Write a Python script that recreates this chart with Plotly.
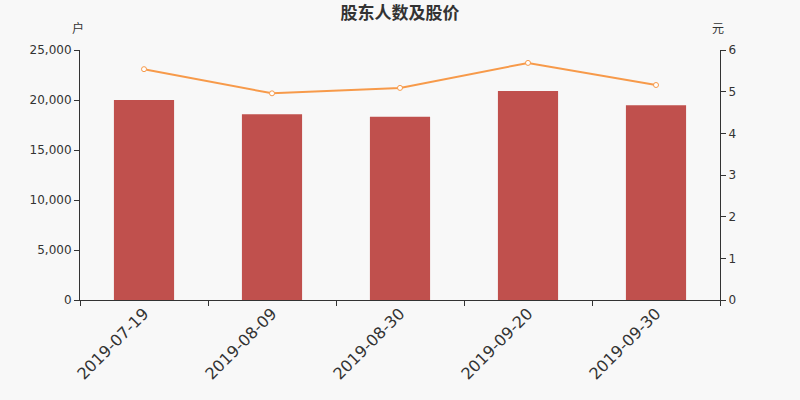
import plotly.graph_objects as go

dates = ['2019-07-19', '2019-08-09', '2019-08-30', '2019-09-20', '2019-09-30']
holders = [20000, 18580, 18330, 20900, 19480]
prices = [5.54, 4.96, 5.09, 5.69, 5.16]
left_ticks = [0, 5000, 10000, 15000, 20000, 25000]
left_ticktext = ['0', '5,000', '10,000', '15,000', '20,000', '25,000']
right_ticks = [0, 1, 2, 3, 4, 5, 6]

font_family = 'DejaVu Sans, Noto Sans CJK SC, sans-serif'

fig = go.Figure()
fig.add_trace(go.Bar(
    x=dates,
    y=holders,
    marker=dict(color='#c0504d', line=dict(width=0)),
    name='股东人数',
))
fig.add_trace(go.Scatter(
    x=dates,
    y=prices,
    yaxis='y2',
    mode='lines+markers',
    line=dict(color='#f79a4a', width=2),
    marker=dict(size=5, color='white', line=dict(color='#f79a4a', width=1)),
    name='股价',
))

fig.update_layout(
    width=800,
    height=400,
    margin=dict(l=80, r=80, t=50, b=100),
    paper_bgcolor='#f8f8f8',
    plot_bgcolor='#f8f8f8',
    showlegend=False,
    bargap=0.53,
    font=dict(family=font_family, color='#333333'),
    title=dict(
        text='<b>股东人数及股价</b>',
        x=0.5, xanchor='center',
        y=0.967, yanchor='middle',
        font=dict(size=17, color='#333333', family='Noto Sans CJK SC'),
    ),
    xaxis=dict(
        type='category',
        showline=True, linecolor='#333333', linewidth=1,
        ticks='outside', ticklen=5, tickcolor='#333333',
        tickson='boundaries',
        tickangle=-45,
        ticklabelstandoff=-3,
        tickfont=dict(size=16, color='#333333'),
        showgrid=False,
    ),
    yaxis=dict(
        range=[0, 25000],
        tickvals=left_ticks,
        ticktext=left_ticktext,
        showline=True, linecolor='#333333', linewidth=1,
        ticks='outside', ticklen=5, tickcolor='#333333',
        tickfont=dict(size=12, color='#333333'),
        showgrid=False, zeroline=False,
    ),
    yaxis2=dict(
        range=[0, 6],
        tickvals=right_ticks,
        overlaying='y',
        side='right',
        showline=True, linecolor='#333333', linewidth=1,
        ticks='outside', ticklen=5, tickcolor='#333333',
        tickfont=dict(size=12, color='#333333'),
        showgrid=False, zeroline=False,
    ),
    annotations=[
        dict(text='户', xref='paper', yref='paper', x=-0.003, y=1.088,
             xanchor='center', yanchor='middle', showarrow=False,
             font=dict(size=12, color='#333333', family='Noto Sans CJK SC')),
        dict(text='元', xref='paper', yref='paper', x=0.997, y=1.088,
             xanchor='center', yanchor='middle', showarrow=False,
             font=dict(size=12, color='#333333', family='Noto Sans CJK SC')),
    ],
)

# drop the page's default body margin so the figure sits at the window corner
fig.write_html('out.html', config={'displayModeBar': False},
               post_script="document.body.style.margin='0px';")
